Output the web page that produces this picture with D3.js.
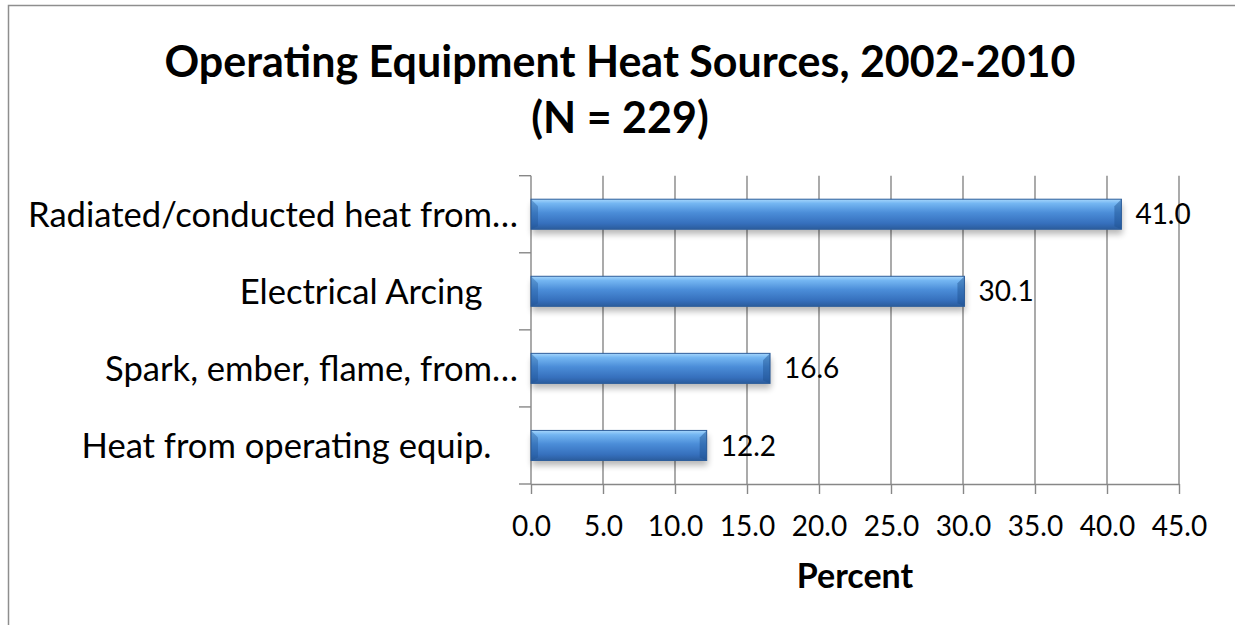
<!DOCTYPE html>
<html>
<head>
<meta charset="utf-8">
<script src="https://cdn.jsdelivr.net/npm/d3@7"></script>
<style>
  html, body { margin: 0; padding: 0; background: #fff; }
  svg { display: block; font-family: Lato, "Open Sans", sans-serif; }
  text { white-space: pre; }
</style>
</head>
<body>
<div id="chart"></div>
<script>
// Horizontal bar chart, Excel-style bevelled bars

const titleLines = ['Operating Equipment Heat Sources, 2002-2010', '(N = 229)'];
const categories = [
    'Radiated/conducted heat from\u2026',
    'Electrical Arcing    ',
    'Spark, ember, flame, from\u2026',
    'Heat from operating equip.   '
];
const values = [41.0, 30.1, 16.6, 12.2];
const xTicks = [0, 5, 10, 15, 20, 25, 30, 35, 40, 45];
const xAxisTitle = 'Percent';

const W = 1235, H = 625;
const GRID = '#878787';

const svg = d3.select('#chart').append('svg')
    .attr('width', W)
    .attr('height', H);

const defs = svg.append('defs');

// bar face gradient (top highlight -> darker bottom)
const grad = defs.append('linearGradient')
    .attr('id', 'barGrad')
    .attr('x1', 0).attr('y1', 0).attr('x2', 0).attr('y2', 1);
[[0, '#a6d6fc'], [0.14, '#74b6f2'], [0.45, '#4b8dd8'], [0.8, '#3670bd'], [1, '#2b5c9d']]
    .forEach(([o, c]) => grad.append('stop').attr('offset', o).attr('stop-color', c));

const blur = defs.append('filter').attr('id', 'shadow')
    .attr('x', '-5%').attr('y', '-50%').attr('width', '110%').attr('height', '200%');
blur.append('feGaussianBlur').attr('stdDeviation', 3);

// outer frame
svg.append('rect')
    .attr('x', 8.5).attr('y', 5.5)
    .attr('width', W + 20).attr('height', H + 20)
    .attr('fill', '#fff')
    .attr('stroke', '#8e8e8e')
    .attr('stroke-width', 1.5);

// title
const title = svg.append('text')
    .attr('text-anchor', 'middle')
    .attr('font-weight', 700)
    .attr('font-size', '43px')
    .attr('fill', '#000');
title.selectAll('tspan').data(titleLines).join('tspan')
    .attr('x', 620)
    .attr('y', (d, i) => 77 + i * 56)
    .text(d => d);

const plot = { left: 531, right: 1179, top: 175.7, bottom: 484 };

const x = d3.scaleLinear().domain([0, 45]).range([plot.left, plot.right]);
const y = d3.scaleBand().domain(categories)
    .range([plot.top, plot.bottom])
    .paddingInner(0.61).paddingOuter(0.305);

const step = y.step();

// vertical gridlines
svg.append('g').selectAll('line')
    .data(xTicks.filter(t => t > 0))
    .join('line')
    .attr('x1', d => x(d)).attr('x2', d => x(d))
    .attr('y1', plot.top).attr('y2', plot.bottom)
    .attr('stroke', GRID).attr('stroke-width', 1.4);

// y axis with category boundary ticks
const yAxisG = svg.append('g');
yAxisG.append('line')
    .attr('x1', plot.left).attr('x2', plot.left)
    .attr('y1', plot.top).attr('y2', plot.bottom)
    .attr('stroke', GRID).attr('stroke-width', 1.4);
yAxisG.selectAll('line.tk')
    .data(d3.range(categories.length + 1))
    .join('line')
    .attr('class', 'tk')
    .attr('x1', plot.left - 12).attr('x2', plot.left)
    .attr('y1', i => plot.top + i * step).attr('y2', i => plot.top + i * step)
    .attr('stroke', GRID).attr('stroke-width', 1.4);

// x axis
const xAxis = d3.axisBottom(x)
    .tickValues(xTicks)
    .tickFormat(d3.format('.1f'))
    .tickSize(10)
    .tickSizeOuter(0)
    .tickPadding(8);

const xAxisG = svg.append('g')
    .attr('transform', `translate(0,${plot.bottom})`)
    .call(xAxis);
xAxisG.select('.domain').attr('stroke', GRID).attr('stroke-width', 1.4);
xAxisG.selectAll('.tick line').attr('stroke', GRID).attr('stroke-width', 1.4);
xAxisG.selectAll('.tick text')
    .attr('font-family', 'Lato, sans-serif')
    .attr('font-size', '28px')
    .attr('fill', '#000')
    .attr('dy', null)
    .attr('y', 52);

// category labels
svg.append('g').selectAll('text')
    .data(categories)
    .join('text')
    .attr('x', plot.left - 13)
    .attr('y', d => y(d) + y.bandwidth() / 2)
    .attr('dy', '0.36em')
    .attr('text-anchor', 'end')
    .attr('font-size', '34.6px')
    .attr('fill', '#000')
    .text(d => d);

// bars
const bars = svg.append('g').selectAll('g')
    .data(values.map((v, i) => ({ v, c: categories[i] })))
    .join('g');

bars.append('rect')
    .attr('x', x(0) + 1)
    .attr('y', d => y(d.c) + 5)
    .attr('width', d => x(d.v) - x(0))
    .attr('height', y.bandwidth())
    .attr('fill', '#000')
    .attr('opacity', 0.28)
    .attr('filter', 'url(#shadow)');

bars.append('rect')
    .attr('x', x(0))
    .attr('y', d => y(d.c))
    .attr('width', d => x(d.v) - x(0))
    .attr('height', y.bandwidth())
    .attr('fill', 'url(#barGrad)')
    .attr('stroke', '#2f5f9c')
    .attr('stroke-width', 1);

// bevel facets at both ends
const bev = 7;
bars.append('path')
    .attr('d', d => {
        const x0 = x(0), y0 = y(d.c), y1 = y0 + y.bandwidth();
        return `M${x0},${y0} L${x0 + bev},${y0 + bev} L${x0 + bev},${y1 - 3} L${x0},${y1} Z`;
    })
    .attr('fill', '#1d4f8f').attr('opacity', 0.35);
bars.append('path')
    .attr('d', d => {
        const x1 = x(d.v), y0 = y(d.c), y1 = y0 + y.bandwidth();
        return `M${x1},${y0} L${x1 - bev},${y0 + bev} L${x1 - bev},${y1 - 3} L${x1},${y1} Z`;
    })
    .attr('fill', '#1d4f8f').attr('opacity', 0.45);

// value labels
svg.append('g').selectAll('text')
    .data(values)
    .join('text')
    .attr('x', d => x(d) + 14)
    .attr('y', (d, i) => y(categories[i]) + y.bandwidth() / 2)
    .attr('dy', '0.36em')
    .attr('font-size', '28px')
    .attr('fill', '#000')
    .text(d => d3.format('.1f')(d));

// axis title
svg.append('text')
    .attr('x', (plot.left + plot.right) / 2)
    .attr('y', 588)
    .attr('text-anchor', 'middle')
    .attr('font-weight', 700)
    .attr('font-size', '34px')
    .attr('fill', '#000')
    .text(xAxisTitle);
</script>
</body>
</html>
